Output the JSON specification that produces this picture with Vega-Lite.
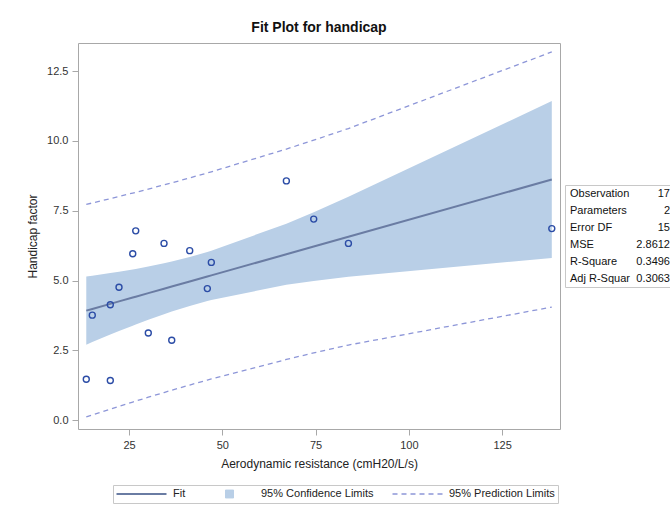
{
  "$schema": "https://vega.github.io/schema/vega-lite/v6.json",
  "background": "white",
  "padding": {"left": 26, "top": 20, "right": 0, "bottom": 0},
  "config": {
    "font": "Liberation Sans",
    "view": {"stroke": "#a8a8a8"},
    "axis": {
      "domain": false,
      "grid": false,
      "tickColor": "#a8a8a8",
      "tickSize": 6,
      "labelFontSize": 11,
      "labelColor": "#333333",
      "labelPadding": 4,
      "titleFontSize": 12,
      "titleFontWeight": "normal",
      "titleColor": "#222222"
    },
    "legend": {
      "title": null,
      "orient": "none",
      "legendX": 35,
      "legendY": 442,
      "direction": "horizontal",
      "strokeColor": "#c8c8c8",
      "padding": 3,
      "clipHeight": 12,
      "labelFontSize": 11,
      "labelColor": "#222222",
      "labelOffset": 6,
      "columnPadding": 18,
      "symbolSize": 2500,
      "symbolType": "stroke",
      "symbolStrokeWidth": 2
    }
  },
  "datasets": {
    "obs": [
      {"x": 13.55, "y": 1.46}, {"x": 19.99, "y": 1.42}, {"x": 15.16, "y": 3.76},
      {"x": 19.99, "y": 4.13}, {"x": 22.32, "y": 4.76}, {"x": 26.8, "y": 6.78},
      {"x": 26.0, "y": 5.96}, {"x": 30.17, "y": 3.12}, {"x": 34.38, "y": 6.33},
      {"x": 36.45, "y": 2.86}, {"x": 41.27, "y": 6.07}, {"x": 47.06, "y": 5.65},
      {"x": 45.99, "y": 4.71}, {"x": 67.17, "y": 8.57}, {"x": 74.5, "y": 7.2},
      {"x": 83.8, "y": 6.33}, {"x": 138.3, "y": 6.86}
    ],
    "fit": [
      {"x": 13.55, "fit": 3.921, "lcl": 2.701, "ucl": 5.142, "lpl": 0.115, "upl": 7.728},
      {"x": 15.16, "fit": 3.982, "lcl": 2.793, "ucl": 5.171, "lpl": 0.186, "upl": 7.778},
      {"x": 19.99, "fit": 4.164, "lcl": 3.063, "ucl": 5.265, "lpl": 0.394, "upl": 7.934},
      {"x": 22.32, "fit": 4.252, "lcl": 3.189, "ucl": 5.314, "lpl": 0.493, "upl": 8.010},
      {"x": 26.0, "fit": 4.390, "lcl": 3.383, "ucl": 5.397, "lpl": 0.647, "upl": 8.134},
      {"x": 26.8, "fit": 4.420, "lcl": 3.424, "ucl": 5.416, "lpl": 0.680, "upl": 8.161},
      {"x": 30.17, "fit": 4.547, "lcl": 3.593, "ucl": 5.501, "lpl": 0.818, "upl": 8.277},
      {"x": 34.38, "fit": 4.706, "lcl": 3.793, "ucl": 5.619, "lpl": 0.987, "upl": 8.425},
      {"x": 36.45, "fit": 4.784, "lcl": 3.886, "ucl": 5.682, "lpl": 1.068, "upl": 8.499},
      {"x": 41.27, "fit": 4.965, "lcl": 4.088, "ucl": 5.842, "lpl": 1.255, "upl": 8.676},
      {"x": 45.99, "fit": 5.143, "lcl": 4.266, "ucl": 6.020, "lpl": 1.433, "upl": 8.853},
      {"x": 47.06, "fit": 5.183, "lcl": 4.304, "ucl": 6.063, "lpl": 1.472, "upl": 8.894},
      {"x": 67.17, "fit": 5.941, "lcl": 4.844, "ucl": 7.038, "lpl": 2.172, "upl": 9.709},
      {"x": 74.5, "fit": 6.217, "lcl": 4.984, "ucl": 7.450, "lpl": 2.406, "upl": 10.027},
      {"x": 83.8, "fit": 6.567, "lcl": 5.136, "ucl": 7.998, "lpl": 2.688, "upl": 10.446},
      {"x": 138.3, "fit": 8.619, "lcl": 5.809, "ucl": 11.430, "lpl": 4.048, "upl": 13.191}
    ],
    "stats": [
      {"stat": "Observations", "val": "17"},
      {"stat": "Parameters", "val": "2"},
      {"stat": "Error DF", "val": "15"},
      {"stat": "MSE", "val": "2.8612"},
      {"stat": "R-Square", "val": "0.3496"},
      {"stat": "Adj R-Square", "val": "0.3063"}
    ]
  },
  "bounds": "flush",
  "center": true,
  "spacing": 5,
  "resolve": {"legend": {"color": "independent"}},
  "hconcat": [
    {
      "width": 482,
      "height": 386,
      "title": {
        "text": "Fit Plot for handicap",
        "fontSize": 14,
        "fontWeight": "bold",
        "color": "#111111",
        "anchor": "middle",
        "offset": 8
      },
      "resolve": {"legend": {"color": "independent"}},
      "encoding": {
        "x": {
          "field": "x",
          "type": "quantitative",
          "scale": {"domain": [11.33, 140.5], "nice": false, "zero": false},
          "axis": {
            "values": [25, 50, 75, 100, 125],
            "title": "Aerodynamic resistance (cmH20/L/s)",
            "titlePadding": 8
          }
        }
      },
      "layer": [
        {
          "data": {"name": "fit"},
          "mark": {"type": "area", "opacity": 1},
          "encoding": {
            "y": {
              "field": "lcl",
              "type": "quantitative",
              "scale": {"domain": [-0.32, 13.51], "nice": false, "zero": false},
              "axis": {
                "values": [0, 2.5, 5, 7.5, 10, 12.5],
                "format": ".1f",
                "title": "Handicap factor",
                "titlePadding": 7
              }
            },
            "y2": {"field": "ucl"},
            "color": {
              "datum": "95% Confidence Limits",
              "type": "nominal",
              "scale": {
                "domain": ["Fit", "95% Confidence Limits", "95% Prediction Limits"],
                "range": ["#6a7ca3", "#b9cfe7", "#8d96d8"]
              },
              "legend": null
            }
          }
        },
        {
          "data": {"name": "fit"},
          "mark": {"type": "line", "strokeWidth": 2},
          "encoding": {
            "y": {"field": "fit", "type": "quantitative"},
            "color": {
              "datum": "Fit",
              "type": "nominal",
              "legend": {
                "encode": {
                  "symbols": {
                    "update": {
                      "shape": {"signal": "(datum.value === '95% Confidence Limits' ? 'square' : 'stroke')"},
                      "size": {"signal": "(datum.value === '95% Confidence Limits' ? 64 : 2500)"},
                      "fill": {"signal": "(datum.value === '95% Confidence Limits' ? '#b9cfe7' : 'transparent')"},
                      "stroke": {"signal": "(datum.value === '95% Confidence Limits' ? '#5f6f95' : (datum.value === 'Fit' ? '#6a7ca3' : '#8d96d8'))"},
                      "strokeWidth": {"signal": "(datum.value === 'Fit' ? 2 : (datum.value === '95% Prediction Limits' ? 1.3 : 1))"},
                      "strokeDash": {"signal": "(datum.value === '95% Prediction Limits' ? [5, 4] : [1, 0])"},
                      "opacity": {"value": 1}
                    }
                  }
                }
              }
            }
          }
        },
        {
          "data": {"name": "fit"},
          "mark": {"type": "line", "strokeWidth": 1.3, "strokeDash": [5, 4]},
          "encoding": {
            "y": {"field": "lpl", "type": "quantitative"},
            "color": {"datum": "95% Prediction Limits", "type": "nominal", "legend": null}
          }
        },
        {
          "data": {"name": "fit"},
          "mark": {"type": "line", "strokeWidth": 1.3, "strokeDash": [5, 4]},
          "encoding": {
            "y": {"field": "upl", "type": "quantitative"},
            "color": {"datum": "95% Prediction Limits", "type": "nominal", "legend": null}
          }
        },
        {
          "data": {"name": "obs"},
          "mark": {
            "type": "point",
            "shape": "circle",
            "filled": false,
            "stroke": "#2b4ca6",
            "strokeWidth": 1.4,
            "size": 36,
            "opacity": 1
          },
          "encoding": {
            "y": {"field": "y", "type": "quantitative"}
          }
        }
      ]
    },
    {
      "width": 106,
      "height": 102,
      "view": {"stroke": "#c8c8c8"},
      "data": {"name": "stats"},
      "encoding": {
        "y": {"field": "stat", "type": "nominal", "sort": null, "axis": null}
      },
      "layer": [
        {
          "mark": {
            "type": "text",
            "align": "left",
            "baseline": "middle",
            "dx": 5,
            "fontSize": 11,
            "color": "#111111",
            "limit": 64,
            "ellipsis": "\u200b"
          },
          "encoding": {
            "x": {"datum": 0, "type": "quantitative", "scale": {"domain": [0, 1]}, "axis": null},
            "text": {"field": "stat"}
          }
        },
        {
          "mark": {
            "type": "text",
            "align": "right",
            "baseline": "middle",
            "dx": -1,
            "fontSize": 11,
            "color": "#111111"
          },
          "encoding": {
            "x": {"datum": 1, "type": "quantitative"},
            "text": {"field": "val"}
          }
        }
      ]
    }
  ]
}
